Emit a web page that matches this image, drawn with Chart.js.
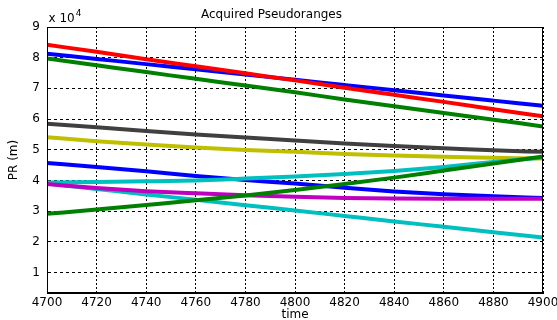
<!DOCTYPE html>
<html>
<head>
<meta charset="utf-8">
<title>Acquired Pseudoranges</title>
<script src="https://cdn.jsdelivr.net/npm/chart.js@4.4.1/dist/chart.umd.min.js"></script>
<style>
  html, body { margin: 0; padding: 0; background: #fff; }
  canvas { display: block; }
</style>
</head>
<body>
<canvas id="prChart" width="557" height="320"></canvas>
<script>
// pseudoranges, in metres
const time = [4700, 4720, 4740, 4760, 4780, 4800, 4820, 4840, 4860, 4880, 4900];
const prRed = [84200, 81900, 79500, 77200, 74900, 72600, 70200, 67900, 65600, 63200, 60900];
const prBlueTop = [81300, 79600, 77900, 76200, 74500, 72800, 71100, 69400, 67700, 66000, 64300];
const prGreenTop = [79700, 77500, 75300, 73100, 70900, 68700, 66400, 64200, 62000, 59800, 57600];
const prGray = [58500, 57300, 56100, 55000, 54000, 53000, 52000, 51200, 50500, 49800, 49300];
const prYellow = [54100, 52800, 51700, 50700, 49900, 49300, 48600, 48100, 47700, 47400, 47100];
const prBlueLow = [45700, 44400, 43000, 41400, 40100, 39000, 37600, 36400, 35500, 34800, 34300];
const prCyanUp = [39300, 39500, 39700, 40000, 40600, 41300, 42100, 43100, 44400, 46000, 47500];
const prCyanLow = [39000, 37200, 35400, 33700, 31900, 30200, 28400, 26600, 24900, 23100, 21400];
const prGreenLow = [29100, 30500, 32000, 33500, 35100, 36900, 38800, 40900, 43200, 45500, 47800];
const prMagenta = [38800, 37500, 36500, 35800, 35200, 34700, 34300, 34100, 34000, 34000, 34000];

const xTicks = [4700, 4720, 4740, 4760, 4780, 4800, 4820, 4840, 4860, 4880, 4900];
const yTicks = [10000, 20000, 30000, 40000, 50000, 60000, 70000, 80000, 90000];

const FONT = '"DejaVu Sans", sans-serif';

// first dataset is drawn on top
const series = [
    [prGreenLow, '#008000'],
    [prMagenta, '#bf00bf'],
    [prCyanUp, '#00bfbf'],
    [prBlueLow, '#0000ff'],
    [prCyanLow, '#00bfbf'],
    [prYellow, '#bfbf00'],
    [prGray, '#404040'],
    [prRed, '#ff0000'],
    [prBlueTop, '#0000ff'],
    [prGreenTop, '#008000']
];

const datasets = series.map(([vals, color]) => ({
    data: time.map((t, i) => ({ x: t, y: vals[i] })),
    borderColor: color,
    backgroundColor: color,
    borderWidth: 4,
    pointRadius: 0,
    fill: false,
    cubicInterpolationMode: 'monotone'
}));

// box round the axes + the "x 10^4" multiplier
const matlabBox = {
    id: 'matlabBox',
    afterDraw(chart) {
        const { ctx, chartArea: a } = chart;
        ctx.save();
        ctx.strokeStyle = '#000';
        ctx.lineWidth = 1;
        const l = Math.round(a.left) + 0.5, t = Math.round(a.top) + 0.5;
        const r = Math.round(a.right) - 0.5, b = Math.round(a.bottom) - 0.5;
        ctx.strokeRect(l, t, r - l, b - t);
        ctx.fillStyle = '#000';
        ctx.textBaseline = 'alphabetic';
        ctx.font = '12px ' + FONT;
        const base = 'x 10';
        ctx.fillText(base, l + 1, 22);
        const w = ctx.measureText(base).width;
        ctx.font = '9px ' + FONT;
        ctx.fillText('4', l + 2 + w, 16);
        ctx.restore();
    }
};

const ctx = document.getElementById('prChart').getContext('2d');
const prChart = new Chart(ctx, {
    type: 'line',
    data: { datasets: datasets },
    options: {
        responsive: false,
        animation: false,
        devicePixelRatio: 1,
        layout: { padding: { top: 0, right: 14, bottom: 0, left: 0 } },
        plugins: {
            legend: { display: false },
            tooltip: { enabled: false },
            title: {
                display: true,
                text: 'Acquired Pseudoranges',
                color: '#000',
                font: { family: FONT, size: 12, weight: 'normal', lineHeight: 1.2 },
                padding: { top: 8, bottom: 4.6 }
            }
        },
        scales: {
            x: {
                type: 'linear',
                min: 4700,
                max: 4900,
                afterBuildTicks: s => { s.ticks = xTicks.map(v => ({ value: v })); },
                afterFit: s => { s.height = 27; s.paddingLeft = 0; s.paddingRight = 0; },
                ticks: {
                    color: '#000',
                    font: { family: FONT, size: 12 },
                    padding: 3,
                    maxRotation: 0,
                    autoSkip: false,
                    callback: v => String(v)
                },
                grid: { color: '#000', lineWidth: 1, drawTicks: false },
                border: { display: true, color: '#000', dash: [2, 2] },
                title: {
                    display: true,
                    text: 'time',
                    color: '#000',
                    font: { family: FONT, size: 12, lineHeight: 1 },
                    padding: { top: 0, bottom: -1 }
                }
            },
            y: {
                type: 'linear',
                min: 3300,
                max: 90000,
                afterBuildTicks: s => { s.ticks = yTicks.map(v => ({ value: v })); },
                afterFit: s => { s.width = 47; s.paddingTop = 0; s.paddingBottom = 0; },
                ticks: {
                    color: '#000',
                    font: { family: FONT, size: 12 },
                    padding: 7,
                    callback: v => String(v / 10000)
                },
                grid: { color: '#000', lineWidth: 1, drawTicks: false },
                border: { display: true, color: '#000', dash: [3, 3] },
                title: {
                    display: true,
                    text: 'PR (m)',
                    color: '#000',
                    font: { family: FONT, size: 12, lineHeight: 1.2 },
                    padding: { top: 7, bottom: 0 }
                }
            }
        }
    },
    plugins: [matlabBox]
});
</script>
</body>
</html>
